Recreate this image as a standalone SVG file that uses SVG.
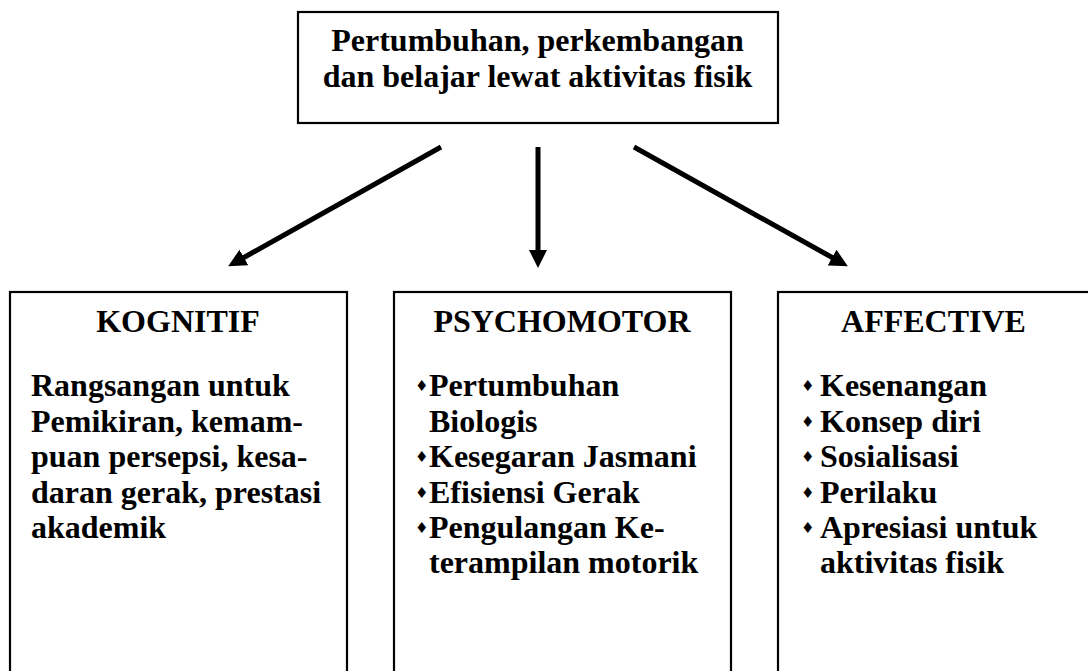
<svg xmlns="http://www.w3.org/2000/svg" width="1088" height="671" viewBox="0 0 1088 671">
<style>
.box{fill:#fff;stroke:#000;stroke-width:2.2}
.t{font-family:"Liberation Serif","Times New Roman",serif;font-weight:bold;font-size:32px;fill:#000}
.c{text-anchor:middle}
.b{font-family:"DejaVu Sans",sans-serif;font-size:15px;fill:#000}
.conn{stroke:#000;stroke-width:5;fill:none}
</style>
<defs>
<marker id="ah" markerUnits="userSpaceOnUse" markerWidth="20" markerHeight="20" refX="1" refY="9" orient="auto" viewBox="0 0 20 18">
<path d="M0,0 L18,9 L0,18 z" fill="#000"/>
</marker>
</defs>
<rect width="1088" height="671" fill="#fff"/>
<g id="connectors">
<line class="conn" x1="441" y1="147" x2="243" y2="258" marker-end="url(#ah)"/>
<line class="conn" x1="538" y1="147" x2="538" y2="251" marker-end="url(#ah)"/>
<line class="conn" x1="634" y1="147" x2="833" y2="258" marker-end="url(#ah)"/>
</g>
<g id="top">
<rect class="box" x="298" y="12" width="480" height="111"/>
<text class="t c" x="537.5" y="51">Pertumbuhan, perkembangan</text>
<text class="t c" x="537.5" y="87">dan belajar lewat aktivitas fisik</text>
</g>
<g id="kognitif">
<rect class="box" x="10" y="292" width="337" height="400"/>
<text class="t c" x="178" y="332">KOGNITIF</text>
<text class="t" x="31" y="396">Rangsangan untuk</text>
<text class="t" x="31" y="432">Pemikiran, kemam-</text>
<text class="t" x="31" y="467">puan persepsi, kesa-</text>
<text class="t" x="31" y="503">daran gerak, prestasi</text>
<text class="t" x="31" y="538">akademik</text>
</g>
<g id="psychomotor">
<rect class="box" x="394" y="292" width="337" height="400"/>
<text class="t c" x="562" y="332">PSYCHOMOTOR</text>
<text class="b" x="415" y="391">♦</text>
<text class="t" x="429" y="396">Pertumbuhan</text>
<text class="t" x="429" y="432">Biologis</text>
<text class="b" x="415" y="462">♦</text>
<text class="t" x="429" y="467">Kesegaran Jasmani</text>
<text class="b" x="415" y="498">♦</text>
<text class="t" x="429" y="503">Efisiensi Gerak</text>
<text class="b" x="415" y="533">♦</text>
<text class="t" x="429" y="538">Pengulangan Ke-</text>
<text class="t" x="429" y="573">terampilan motorik</text>
</g>
<g id="affective">
<rect class="box" x="778" y="292" width="312" height="400"/>
<text class="t c" x="933.5" y="332">AFFECTIVE</text>
<text class="b" x="801" y="391">♦</text>
<text class="t" x="820" y="396">Kesenangan</text>
<text class="b" x="801" y="427">♦</text>
<text class="t" x="820" y="432">Konsep diri</text>
<text class="b" x="801" y="462">♦</text>
<text class="t" x="820" y="467">Sosialisasi</text>
<text class="b" x="801" y="498">♦</text>
<text class="t" x="820" y="503">Perilaku</text>
<text class="b" x="801" y="533">♦</text>
<text class="t" x="820" y="538">Apresiasi untuk</text>
<text class="t" x="820" y="573">aktivitas fisik</text>
</g>
</svg>
